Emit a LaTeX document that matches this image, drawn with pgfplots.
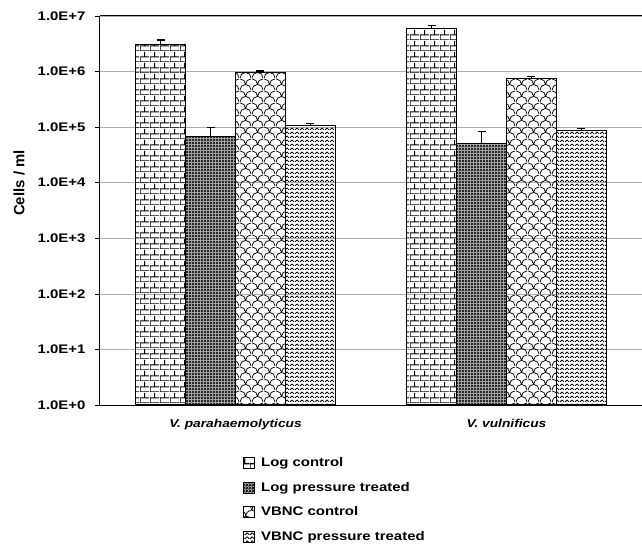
\documentclass[border=0pt]{standalone}
\usepackage{fontspec}
\setmainfont{Liberation Sans}[FakeStretch=1.2]
\newfontfamily\plainfont{Liberation Sans}
\usepackage{pgfplots}
\pgfplotsset{compat=1.18}
\usetikzlibrary{patterns}

\pgfdeclarepatternformonly{mybricks}{\pgfpointorigin}{\pgfpoint{10bp}{11bp}}{\pgfpoint{10bp}{11bp}}{%
  \pgfsetlinewidth{1.1bp}%
  \pgfpathmoveto{\pgfpoint{0bp}{0bp}}\pgfpathlineto{\pgfpoint{10bp}{0bp}}%
  \pgfpathmoveto{\pgfpoint{0bp}{5.5bp}}\pgfpathlineto{\pgfpoint{10bp}{5.5bp}}%
  \pgfpathmoveto{\pgfpoint{0bp}{0bp}}\pgfpathlineto{\pgfpoint{0bp}{5.5bp}}%
  \pgfpathmoveto{\pgfpoint{5bp}{5.5bp}}\pgfpathlineto{\pgfpoint{5bp}{11bp}}%
  \pgfusepath{stroke}}
\pgfdeclarepatternformonly{mycross}{\pgfpointorigin}{\pgfpoint{3bp}{3bp}}{\pgfpoint{3bp}{3bp}}{%
  \pgfsetlinewidth{0.8bp}%
  \pgfpathmoveto{\pgfpoint{0bp}{0bp}}\pgfpathlineto{\pgfpoint{3bp}{3bp}}%
  \pgfpathmoveto{\pgfpoint{0bp}{3bp}}\pgfpathlineto{\pgfpoint{3bp}{0bp}}%
  \pgfusepath{stroke}}
\pgfdeclarepatternformonly{myscales}{\pgfpointorigin}{\pgfpoint{12bp}{12bp}}{\pgfpoint{12bp}{12bp}}{%
  \pgfsetlinewidth{0.8bp}%
  \pgfpathmoveto{\pgfpoint{0bp}{0bp}}\pgfpatharc{180}{0}{6bp}%
  \pgfpathmoveto{\pgfpoint{0bp}{12bp}}\pgfpatharc{90}{0}{6bp}%
  \pgfpathmoveto{\pgfpoint{6bp}{6bp}}\pgfpatharc{180}{90}{6bp}%
  \pgfusepath{stroke}}
\pgfdeclarepatternformonly{myherring}{\pgfpointorigin}{\pgfpoint{5bp}{4bp}}{\pgfpoint{5bp}{4bp}}{%
  \pgfsetlinewidth{1bp}%
  \pgfpathmoveto{\pgfpoint{0bp}{0bp}}\pgfpathlineto{\pgfpoint{2.5bp}{2.5bp}}\pgfpathlineto{\pgfpoint{5bp}{0bp}}%
  \pgfusepath{stroke}}

\begin{document}
\begin{tikzpicture}
\begin{axis}[
  scale only axis, width=542bp, height=389bp,
  ymode=log, ymin=1, ymax=1e7,
  xmin=-0.5, xmax=1.5,
  ybar=0pt, bar width=0.184,
  xtick={0,1}, xticklabels={V. parahaemolyticus, V. vulnificus},
  xticklabel style={font=\fontsize{11.5}{13}\selectfont\bfseries\itshape, yshift=-6bp},
  x tick style={draw=none},
  ytick={1,10,100,1000,10000,100000,1000000,10000000},
  yticklabels={1.0E+0,1.0E+1,1.0E+2,1.0E+3,1.0E+4,1.0E+5,1.0E+6,1.0E+7},
  yticklabel style={font=\fontsize{12.5}{14}\selectfont\bfseries, xshift=-6bp},
  yminorticks=false,
  axis y line*=left,
  ymajorgrids, grid style={gray!65, line width=0.6bp},
  tick style={black, line width=0.6bp}, major tick length=5bp, tick align=outside,
  axis line style={black, line width=1bp},
  legend style={at={(rel axis cs:0.264,-0.13)}, anchor=north west, draw=none, fill=none,
    font=\fontsize{12.5}{14}\selectfont\bfseries, row sep=10bp, inner sep=0pt},
  legend cell align=left,
  legend image code/.code={\draw[#1, line width=0.6bp] (0bp,-5.5bp) rectangle (11bp,5.5bp); \path (15bp,0bp);},
  error bars/y dir=plus, error bars/y explicit,
  error bars/error bar style={black, line width=1bp},
  error bars/error mark=-,
  error bars/error mark options={black, rotate=90, mark size=4bp, line width=1.2bp},
]
\addplot[draw=black, line width=1.1bp, pattern=mybricks] coordinates {
  (0,3.1e6) +- (0,6e5)
  (1,5.9e6) +- (0,8e5)
};
\addplot[draw=black, line width=1.1bp, fill=gray!55, postaction={pattern=mycross}] coordinates {
  (0,6.9e4) +- (0,3.1e4)
  (1,5.1e4) +- (0,3.2e4)
};
\addplot[draw=black, line width=1.1bp, pattern=myscales] coordinates {
  (0,9.5e5) +- (0,7e4)
  (1,7.5e5) +- (0,7e4)
};
\addplot[draw=black, line width=1.1bp, pattern=myherring] coordinates {
  (0,1.09e5) +- (0,6e3)
  (1,8.7e4) +- (0,8e3)
};
\legend{Log control, Log pressure treated, VBNC control, VBNC pressure treated}
\coordinate (bl) at (rel axis cs:0,0);
\coordinate (tr) at (rel axis cs:1,1);
\end{axis}
\node[rotate=90, font=\plainfont\fontsize{15}{17}\selectfont\bfseries, anchor=center]
  at ([shift={(-81bp,222bp)}]bl) {Cells / ml};
\pgfresetboundingbox
\path ([shift={(-100bp,-141bp)}]bl) rectangle ([shift={(0bp,16bp)}]tr);
\end{tikzpicture}
\end{document}
